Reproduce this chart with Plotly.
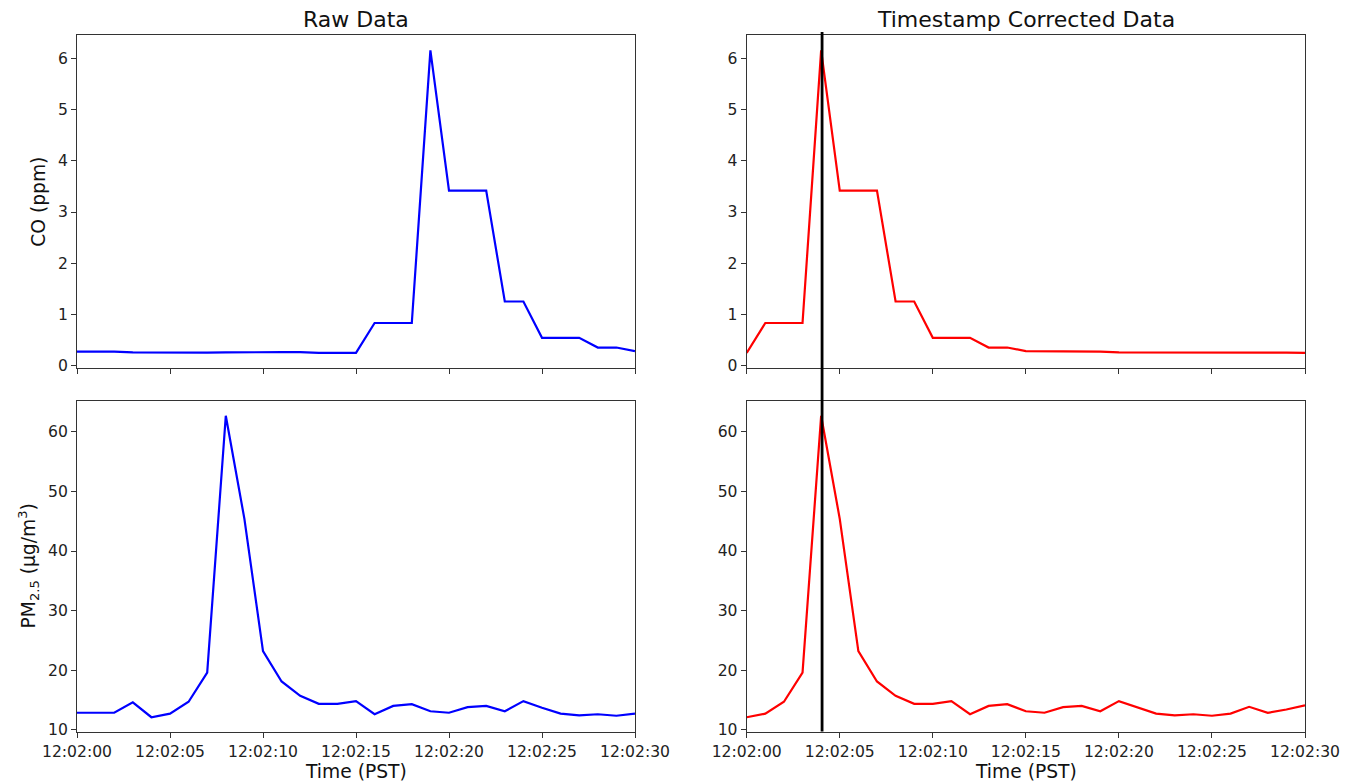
import plotly.graph_objects as go

# ---- data ----
seconds = list(range(31))  # seconds after 12:02:00
tick_vals = [0, 5, 10, 15, 20, 25, 30]
tick_text = ["12:02:00", "12:02:05", "12:02:10", "12:02:15", "12:02:20", "12:02:25", "12:02:30"]

co_raw = [0.27, 0.27, 0.27, 0.255, 0.25, 0.25, 0.25, 0.25, 0.255, 0.26, 0.26, 0.26, 0.26,
          0.245, 0.245, 0.245, 0.83, 0.83, 0.83, 6.16, 3.42, 3.42, 3.42, 1.25, 1.25,
          0.54, 0.54, 0.54, 0.35, 0.35, 0.28]
co_corrected = [0.245, 0.83, 0.83, 0.83, 6.16, 3.42, 3.42, 3.42, 1.25, 1.25, 0.54, 0.54,
                0.54, 0.35, 0.35, 0.28, 0.28, 0.28, 0.27, 0.27, 0.255, 0.255, 0.255, 0.26,
                0.26, 0.26, 0.26, 0.26, 0.25, 0.25, 0.245]

pm_raw = [12.85, 12.85, 12.85, 14.6, 12.1, 12.7, 14.7, 19.6, 62.7, 45.4, 23.2, 18.1, 15.7,
          14.35, 14.35, 14.8, 12.6, 14.0, 14.3, 13.1, 12.85, 13.8, 14.0, 13.1, 14.8, 13.7,
          12.7, 12.4, 12.6, 12.35, 12.7]
pm_corrected = [12.1, 12.7, 14.7, 19.6, 62.7, 45.4, 23.2, 18.1, 15.7, 14.35, 14.35, 14.8,
                12.6, 14.0, 14.3, 13.1, 12.85, 13.8, 14.0, 13.1, 14.8, 13.7, 12.7, 12.4,
                12.6, 12.35, 12.7, 13.85, 12.85, 13.4, 14.1]

marker_time = 4.05  # vertical reference line on corrected panels

# ---- figure ----
FONT = "DejaVu Sans"
W, H = 1361, 783

def px(x):   # screen x pixel -> paper fraction
    return x / W

def py(y):   # screen y pixel -> paper fraction
    return 1 - y / H

xd_left = [px(77), px(635)]
xd_right = [px(746.7), px(1305)]
yd_top = [py(368.3), py(35.3)]
yd_bot = [py(732.3), py(400.7)]

fig = go.Figure()
line_w = 2.2
fig.add_trace(go.Scatter(x=seconds, y=co_raw, mode="lines", line=dict(color="#0000ff", width=line_w),
                         xaxis="x", yaxis="y", showlegend=False))
fig.add_trace(go.Scatter(x=seconds, y=co_corrected, mode="lines", line=dict(color="#ff0000", width=line_w),
                         xaxis="x2", yaxis="y2", showlegend=False))
fig.add_trace(go.Scatter(x=seconds, y=pm_raw, mode="lines", line=dict(color="#0000ff", width=line_w),
                         xaxis="x3", yaxis="y3", showlegend=False))
fig.add_trace(go.Scatter(x=seconds, y=pm_corrected, mode="lines", line=dict(color="#ff0000", width=line_w),
                         xaxis="x4", yaxis="y4", showlegend=False))

axis_common = dict(showline=True, mirror=True, linecolor="#333333", linewidth=1.1,
                   showgrid=False, zeroline=False, ticks="outside", ticklen=5, tickwidth=1.1,
                   tickcolor="#333333", automargin=False,
                   tickfont=dict(family=FONT, size=15.6, color="#222222"))

def xax(domain, anchor, labels):
    return dict(axis_common, domain=domain, anchor=anchor, range=[0, 30],
                tickmode="array", tickvals=tick_vals, ticktext=tick_text,
                showticklabels=labels)

co_range = [-0.056, 6.456]
pm_range = [9.57, 65.23]

fig.update_layout(
    template="none",
    width=W, height=H,
    margin=dict(l=0, r=0, t=0, b=0, autoexpand=False),
    paper_bgcolor="white", plot_bgcolor="white",
    font=dict(family=FONT, color="#222222"),
    hovermode=False,
    xaxis=xax(xd_left, "y", False),
    xaxis2=xax(xd_right, "y2", False),
    xaxis3=xax(xd_left, "y3", True),
    xaxis4=xax(xd_right, "y4", True),
    yaxis=dict(axis_common, domain=yd_top, anchor="x", range=co_range, tickmode="linear", tick0=0, dtick=1),
    yaxis2=dict(axis_common, domain=yd_top, anchor="x2", range=co_range, tickmode="linear", tick0=0, dtick=1),
    yaxis3=dict(axis_common, domain=yd_bot, anchor="x3", range=pm_range, tickmode="linear", tick0=0, dtick=10),
    yaxis4=dict(axis_common, domain=yd_bot, anchor="x4", range=pm_range, tickmode="linear", tick0=0, dtick=10),
)

# vertical line spanning both corrected panels
fig.add_shape(type="line", xref="x2", yref="paper", x0=marker_time, x1=marker_time,
              y0=py(731.5), y1=py(32), line=dict(color="black", width=2.8), layer="above")

# titles and labels
title_font = dict(family=FONT, size=22, color="#111111")
label_font = dict(family=FONT, size=18.7, color="#111111")
fig.add_annotation(text="Raw Data", x=sum(xd_left) / 2, y=py(19), xref="paper", yref="paper",
                   showarrow=False, font=title_font, xanchor="center", yanchor="middle")
fig.add_annotation(text="Timestamp Corrected Data", x=sum(xd_right) / 2, y=py(19), xref="paper",
                   yref="paper", showarrow=False, font=title_font, xanchor="center", yanchor="middle")
for xd in (xd_left, xd_right):
    fig.add_annotation(text="Time (PST)", x=sum(xd) / 2, y=py(771), xref="paper", yref="paper",
                       showarrow=False, font=label_font, xanchor="center", yanchor="middle")
fig.add_annotation(text="CO (ppm)", x=px(39), y=sum(yd_top) / 2, xref="paper", yref="paper",
                   showarrow=False, font=label_font, textangle=-90, xanchor="center", yanchor="middle")
fig.add_annotation(text="PM<sub>2.5</sub> (µg/m<sup>3</sup>)", x=px(29), y=sum(yd_bot) / 2,
                   xref="paper", yref="paper", showarrow=False, font=label_font, textangle=-90,
                   xanchor="center", yanchor="middle")

fig.write_html("out.html", config={"displayModeBar": False},
               post_script="document.body.style.margin='0px';")
